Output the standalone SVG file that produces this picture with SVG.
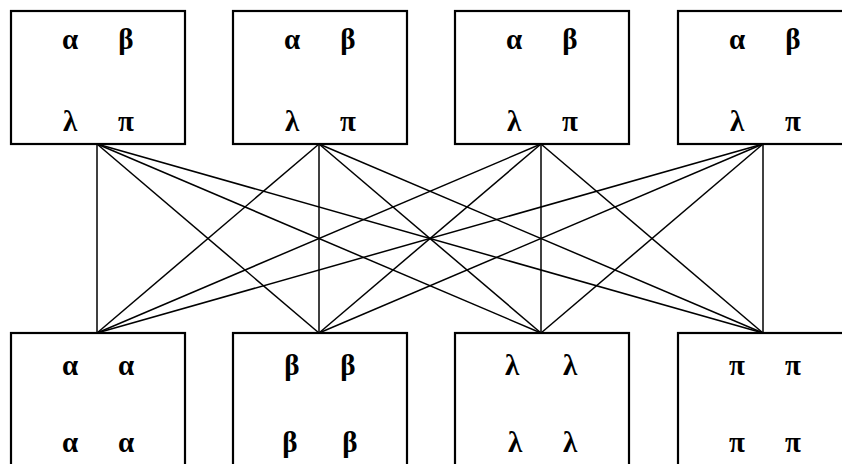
<svg xmlns="http://www.w3.org/2000/svg" width="842" height="464" viewBox="0 0 842 464">
<style>
.box{fill:#fff;stroke:#000;stroke-width:2.2}
.c line{stroke:#000;stroke-width:1.5}
text{font-family:"Liberation Serif","DejaVu Serif",serif;font-size:29px;font-weight:bold;text-anchor:middle;fill:#000}
</style>
<rect width="842" height="464" fill="#fff"/>
<g class="c" id="connectors">
<line x1="97" y1="144" x2="97" y2="333"/><line x1="97" y1="144" x2="319" y2="333"/><line x1="97" y1="144" x2="541" y2="333"/><line x1="97" y1="144" x2="763" y2="333"/>
<line x1="319" y1="144" x2="97" y2="333"/><line x1="319" y1="144" x2="319" y2="333"/><line x1="319" y1="144" x2="541" y2="333"/><line x1="319" y1="144" x2="763" y2="333"/>
<line x1="541" y1="144" x2="97" y2="333"/><line x1="541" y1="144" x2="319" y2="333"/><line x1="541" y1="144" x2="541" y2="333"/><line x1="541" y1="144" x2="763" y2="333"/>
<line x1="763" y1="144" x2="97" y2="333"/><line x1="763" y1="144" x2="319" y2="333"/><line x1="763" y1="144" x2="541" y2="333"/><line x1="763" y1="144" x2="763" y2="333"/>
</g>
<g id="top1"><rect class="box" x="11" y="11" width="174" height="133"/><text x="70" y="49">α</text><text x="126" y="49">β</text><text x="70" y="131">λ</text><text x="126" y="131">π</text></g>
<g id="top2"><rect class="box" x="233" y="11" width="174" height="133"/><text x="292" y="49">α</text><text x="348" y="49">β</text><text x="292" y="131">λ</text><text x="348" y="131">π</text></g>
<g id="top3"><rect class="box" x="455" y="11" width="174" height="133"/><text x="514" y="49">α</text><text x="570" y="49">β</text><text x="514" y="131">λ</text><text x="570" y="131">π</text></g>
<g id="top4"><rect class="box" x="678" y="11" width="174" height="133"/><text x="737" y="49">α</text><text x="793" y="49">β</text><text x="737" y="131">λ</text><text x="793" y="131">π</text></g>
<g id="bot1"><rect class="box" x="11" y="333" width="174" height="140"/><text x="70" y="375">α</text><text x="126" y="375">α</text><text x="70" y="452">α</text><text x="126" y="452">α</text></g>
<g id="bot2"><rect class="box" x="233" y="333" width="174" height="140"/><text x="292" y="375">β</text><text x="348" y="375">β</text><text x="290" y="452">β</text><text x="350" y="452">β</text></g>
<g id="bot3"><rect class="box" x="455" y="333" width="174" height="140"/><text x="512" y="375">λ</text><text x="570" y="375">λ</text><text x="515" y="452">λ</text><text x="570" y="452">λ</text></g>
<g id="bot4"><rect class="box" x="678" y="333" width="174" height="140"/><text x="737" y="375">π</text><text x="793" y="375">π</text><text x="737" y="452">π</text><text x="793" y="452">π</text></g>
</svg>
